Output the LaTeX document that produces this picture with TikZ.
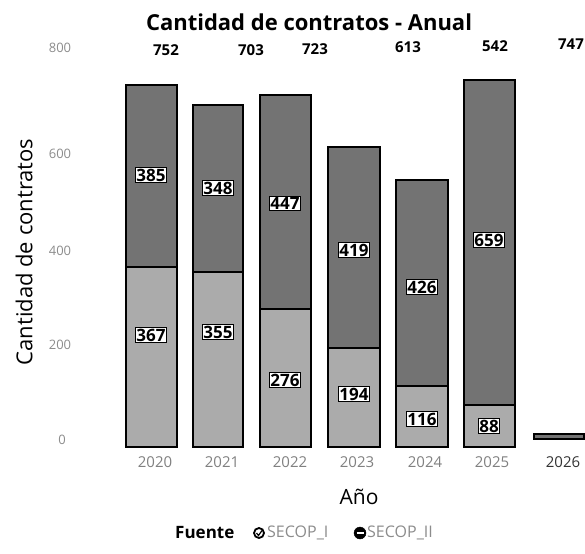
\documentclass[tikz,border=0pt]{standalone}
\usepackage{fontspec}
\setmainfont{Open Sans}
\usepackage{tikz}

\begin{document}
\begin{tikzpicture}[x=1pt, y=-1pt,
    topbar/.style={draw=black, line width=1.6pt, fill=black!55},
    lowbar/.style={draw=black, line width=1.6pt, fill=black!33},
    seglabel/.style={draw=black, line width=0.6pt, fill=white, inner sep=1pt,
        font=\fontsize{17}{18}\selectfont\bfseries},
    total/.style={font=\fontsize{15}{16}\selectfont\bfseries},
    ticklabel/.style={text=black!45, font=\fontsize{13}{14}\selectfont},
    yearlabel/.style={text=black!50, font=\fontsize{15}{16}\selectfont},
    ]
	\useasboundingbox (0,0) rectangle (585,553);

	\node[font=\fontsize{22}{24}\selectfont\bfseries] (title) at (309,22) {Cantidad de contratos - Anual};
	\node[rotate=90, font=\fontsize{22}{24}\selectfont] (ytitle) at (24,252) {Cantidad de contratos};

	\node[ticklabel] (y800) at (60,48) {800};
	\node[ticklabel] (y600) at (60,154) {600};
	\node[ticklabel] (y400) at (60,251) {400};
	\node[ticklabel] (y200) at (60,345) {200};
	\node[ticklabel] (y0) at (62,440) {0};

	\node[total] (t20) at (166,50) {752};
	\node[total] (t21) at (251,50) {703};
	\node[total] (t22) at (315,49) {723};
	\node[total] (t23) at (408,47) {613};
	\node[total] (t24) at (495,46) {542};
	\node[total] (t25) at (571,44) {747};

	% barras
	\draw[lowbar](126, 447) rectangle (177, 267);
	\draw[topbar](126, 267) rectangle (177, 85);
	\draw[lowbar](193, 447) rectangle (243, 272);
	\draw[topbar](193, 272) rectangle (243, 105);
	\draw[lowbar](260, 447) rectangle (311, 309);
	\draw[topbar](260, 309) rectangle (311, 95);
	\draw[lowbar](328, 447) rectangle (380, 348);
	\draw[topbar](328, 348) rectangle (380, 147);
	\draw[lowbar](396, 447) rectangle (448, 386);
	\draw[topbar](396, 386) rectangle (448, 180);
	\draw[lowbar](464, 447) rectangle (515, 405);
	\draw[topbar](464, 405) rectangle (515, 80);
	\draw[topbar](534, 439) rectangle (584, 434);

	\node[seglabel] (s20a) at (151,175) {385};
	\node[seglabel] (s20b) at (151,335) {367};
	\node[seglabel] (s21a) at (218,188) {348};
	\node[seglabel] (s21b) at (218,332) {355};
	\node[seglabel] (s22a) at (285,203) {447};
	\node[seglabel] (s22b) at (285,380) {276};
	\node[seglabel] (s23a) at (354,250) {419};
	\node[seglabel] (s23b) at (354,394) {194};
	\node[seglabel] (s24a) at (422,287) {426};
	\node[seglabel] (s24b) at (422,419) {116};
	\node[seglabel] (s25a) at (489,240) {659};
	\node[seglabel] (s25b) at (489,426) {88};

	\node[yearlabel] (yr20) at (155,462) {2020};
	\node[yearlabel] (yr21) at (222,462) {2021};
	\node[yearlabel] (yr22) at (290,462) {2022};
	\node[yearlabel] (yr23) at (357,462) {2023};
	\node[yearlabel] (yr24) at (425,462) {2024};
	\node[yearlabel] (yr25) at (492,462) {2025};
	\node[yearlabel, text=black!80] (yr26) at (563,462) {2026};

	\node[font=\fontsize{21}{23}\selectfont] (xtitle) at (359,497) {Año};

	% leyenda
	\node[anchor=west, font=\fontsize{17}{18}\selectfont\bfseries, inner sep=0pt] (fuente) at (175,533) {Fuente};
	\draw[line width=1.8pt, fill=white](259, 533) circle[radius=5];
	\draw[line width=1.2pt](256.5, 533)--(258.5, 535.5)--(262, 530.5);
	\node[anchor=west, text=black!45, font=\fontsize{16}{17}\selectfont, inner sep=0pt] (leg1) at (267,533) {SECOP\_I};
	\draw[fill=black](360, 533) circle[radius=6];
	\draw[white, line width=1.4pt](356.5, 533)--(363.5, 533);
	\node[anchor=west, text=black!45, font=\fontsize{16}{17}\selectfont, inner sep=0pt] (leg2) at (367,533) {SECOP\_II};
\end{tikzpicture}
\end{document}
